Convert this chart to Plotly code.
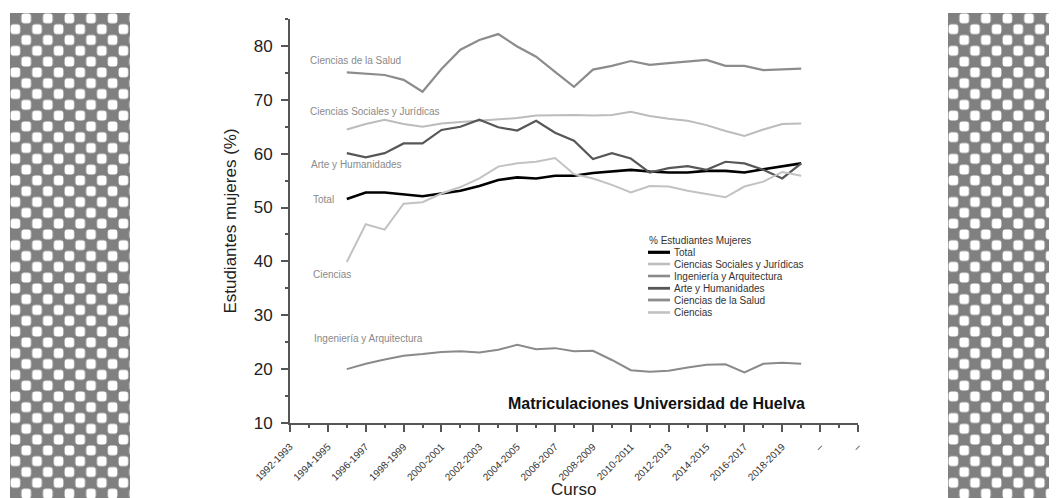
import plotly.graph_objects as go

# cursos académicos con datos
cursos = ["1995-1996", "1996-1997", "1997-1998", "1998-1999", "1999-2000",
          "2000-2001", "2001-2002", "2002-2003", "2003-2004", "2004-2005",
          "2005-2006", "2006-2007", "2007-2008", "2008-2009", "2009-2010",
          "2010-2011", "2011-2012", "2012-2013", "2013-2014", "2014-2015",
          "2015-2016", "2016-2017", "2017-2018", "2018-2019", "2019-2020"]

total = [51.6, 52.8, 52.8, 52.5, 52.1, 52.6, 53.1, 54.0, 55.1, 55.6, 55.4, 55.9,
         55.9, 56.4, 56.7, 57.0, 56.7, 56.5, 56.5, 56.8, 56.8, 56.5, 57.1, 57.6, 58.2]
sociales = [64.5, 65.5, 66.3, 65.5, 65.0, 65.6, 65.9, 66.1, 66.3, 66.6, 67.1, 67.2,
            67.2, 67.1, 67.2, 67.8, 67.0, 66.5, 66.1, 65.3, 64.2, 63.3, 64.5, 65.5, 65.6]
ingenieria = [20.0, 21.0, 21.8, 22.5, 22.8, 23.2, 23.3, 23.1, 23.6, 24.5, 23.7, 23.9,
              23.3, 23.4, 21.7, 19.8, 19.5, 19.7, 20.3, 20.8, 20.9, 19.4, 21.0, 21.2, 21.0]
arte = [60.1, 59.3, 60.1, 61.9, 61.9, 64.4, 65.0, 66.3, 64.9, 64.3, 66.1, 63.9,
        62.4, 59.0, 60.1, 59.1, 56.5, 57.3, 57.7, 57.0, 58.5, 58.2, 57.0, 55.4, 58.2]
salud = [75.1, 74.9, 74.6, 73.7, 71.5, 75.7, 79.3, 81.1, 82.2, 79.9, 78.0, 75.2,
         72.4, 75.6, 76.3, 77.2, 76.5, 76.8, 77.1, 77.4, 76.3, 76.3, 75.5, 75.7, 75.8]
ciencias = [39.9, 46.9, 45.9, 50.7, 51.0, 52.6, 53.8, 55.4, 57.6, 58.2, 58.5, 59.2,
            56.2, 55.4, 54.2, 52.8, 54.0, 53.9, 53.1, 52.5, 51.9, 53.9, 54.8, 56.6, 55.9]

tick_labels = ["1992-1993", "1994-1995", "1996-1997", "1998-1999", "2000-2001",
               "2002-2003", "2004-2005", "2006-2007", "2008-2009", "2010-2011",
               "2012-2013", "2014-2015", "2016-2017", "2018-2019", "–", "–"]

series = [
    ("Total", total, "#000000", 2.6),
    ("Ciencias Sociales y Jurídicas", sociales, "#bcbcbc", 2),
    ("Ingeniería y Arquitectura", ingenieria, "#8a8a8a", 2),
    ("Arte y Humanidades", arte, "#575757", 2.2),
    ("Ciencias de la Salud", salud, "#8c8c8c", 2.2),
    ("Ciencias", ciencias, "#c2c2c2", 2),
]

# etiquetas junto a las curvas (x en años, y en %)
labels_izq = [
    ("Ciencias de la Salud", 1992.95, 77.3),
    ("Ciencias Sociales y Jurídicas", 1992.95, 67.9),
    ("Arte y Humanidades", 1993.0, 57.9),
    ("Total", 1993.1, 51.5),
    ("Ciencias", 1993.1, 37.6),
    ("Ingeniería y Arquitectura", 1993.15, 25.7),
]

# la página deja 8px de margen alrededor de la figura
OFF = 8
W, H = 1057 - OFF, 498 - OFF
X0, X1, Y0, Y1 = 290, 858, 19, 423   # área del gráfico en px de la ventana
PW, PH = X1 - X0, Y1 - Y0


def px(x):
    return (x - X0) / PW


def py(y):
    return 1 - (y - Y0) / PH


years = [int(c[:4]) for c in cursos]
fig = go.Figure()
for name, vals, col, w in series:
    fig.add_trace(go.Scatter(x=years, y=vals, mode="lines", name=name,
                             line=dict(color=col, width=w), showlegend=False))

for txt, x, y in labels_izq:
    fig.add_annotation(x=x, y=y, text=txt, showarrow=False, xanchor="left",
                       yanchor="middle", font=dict(size=10, color="#8a8a8a"))

fig.add_annotation(x=px(807), y=py(403), xref="paper", yref="paper",
                   text="<b>Matriculaciones Universidad de Huelva</b>",
                   showarrow=False, xanchor="right", yanchor="middle",
                   font=dict(size=16, color="#111111"))

fig.add_annotation(x=px(573), y=py(490), xref="paper", yref="paper",
                   text="Curso", showarrow=False, xanchor="center",
                   yanchor="middle", font=dict(size=17, color="#222222"))

# leyenda dibujada a mano (más compacta que la de plotly)
fig.add_annotation(x=px(647), y=py(240), xref="paper", yref="paper",
                   text="% Estudiantes Mujeres", showarrow=False, xanchor="left",
                   yanchor="middle", font=dict(size=10, color="#333333"))
leg_y = [252.3, 264, 276, 288.3, 300, 312.5]
for (name, vals, col, w), yy in zip(series, leg_y):
    fig.add_shape(type="line", xref="paper", yref="paper",
                  x0=px(648), x1=px(670), y0=py(yy), y1=py(yy),
                  line=dict(color=col, width=w + 0.6))
    fig.add_annotation(x=px(672), y=py(yy), xref="paper", yref="paper",
                       text=name, showarrow=False, xanchor="left",
                       yanchor="middle", font=dict(size=10, color="#333333"))

# fondos de cuadros a los lados
cell = 10.8
svg = ("data:image/svg+xml;utf8,<svg xmlns='http://www.w3.org/2000/svg' "
       "width='{w}' height='{h}'><defs><pattern id='p' width='{p}' height='{p}' "
       "patternUnits='userSpaceOnUse'><rect width='{p}' height='{p}' fill='%23808080'/>"
       "<rect x='{a}' y='0.6' width='{b}' height='{b}' rx='2.8' fill='white'/>"
       "<rect x='0.6' y='{a}' width='{b}' height='{b}' rx='2.8' fill='white'/>"
       "</pattern></defs><rect width='{w}' height='{h}' fill='url(%23p)'/></svg>")
for x0, x1 in [(10, 130), (948, 1070)]:
    w, h = x1 - x0, 498 - 13
    src = svg.format(w=w, h=h, p=2 * cell, a=cell + 0.6, b=cell - 1.2)
    fig.add_layout_image(source=src, xref="paper", yref="paper",
                         x=px(x0), y=py(13), sizex=w / PW, sizey=h / PH,
                         xanchor="left", yanchor="top", sizing="stretch",
                         layer="below")

fig.update_xaxes(range=[1992, 2022], tickmode="array",
                 tickvals=list(range(1992, 2023, 2)), ticktext=tick_labels,
                 tickangle=-45, tickfont=dict(size=10, color="#333333"),
                 ticklabelstandoff=5,
                 showline=True, linecolor="#555555", linewidth=2,
                 ticks="outside", ticklen=7, tickwidth=1.5, tickcolor="#555555",
                 minor=dict(dtick=1, tick0=1992, ticks="outside", ticklen=3,
                            tickwidth=1.5, tickcolor="#555555"),
                 showgrid=False, zeroline=False)
fig.update_yaxes(range=[10, 85], dtick=10, tick0=10,
                 tickfont=dict(size=17, color="#222222"), ticklabelstandoff=5,
                 showline=True, linecolor="#555555", linewidth=2,
                 ticks="outside", ticklen=7, tickwidth=1.5, tickcolor="#555555",
                 minor=dict(dtick=5, tick0=10, ticks="outside", ticklen=3,
                            tickwidth=1.5, tickcolor="#555555"),
                 showgrid=False, zeroline=False,
                 title=dict(text="Estudiantes mujeres (%)",
                            font=dict(size=17, color="#222222"), standoff=13))

fig.update_layout(width=W, height=H,
                  margin=dict(l=X0 - OFF, r=1057 - X1, t=Y0 - OFF, b=498 - Y1),
                  plot_bgcolor="white", paper_bgcolor="white",
                  font=dict(family="Liberation Sans, Arial, sans-serif"),
                  showlegend=False)

fig.write_html("out.html")
